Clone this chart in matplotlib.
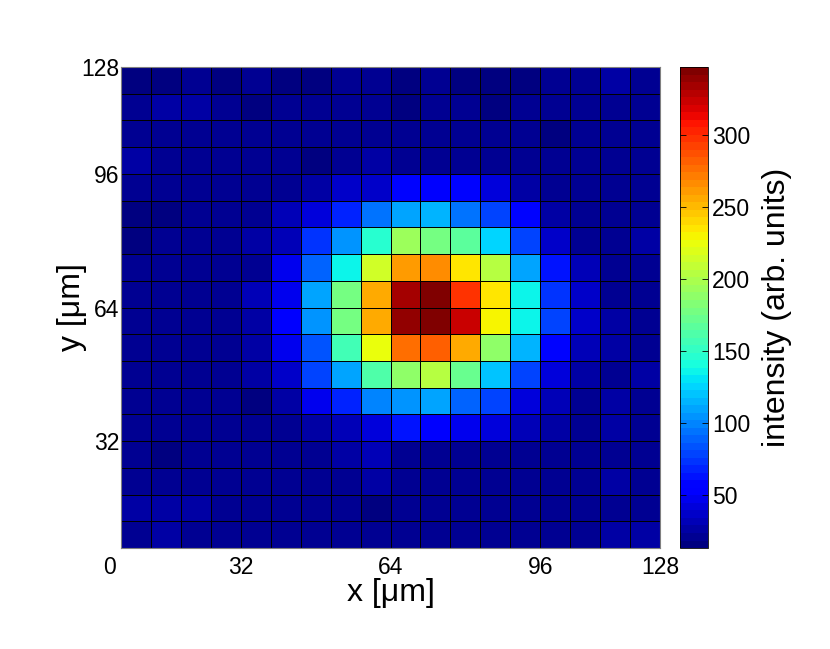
import numpy as np
import matplotlib
matplotlib.use('Agg')
import matplotlib.pyplot as plt
from matplotlib.transforms import ScaledTranslation

plt.rcParams['font.family'] = ['Liberation Sans', 'DejaVu Sans']

# intensidad por celda, fila 0 = arriba
intensidad = np.array([
    [18, 18, 19, 18, 22, 18, 17, 22, 20, 17, 19, 18, 17, 18, 19, 22, 24, 20],
    [19, 25, 25, 19, 18, 19, 22, 22, 20, 18, 20, 20, 18, 20, 20, 22, 19, 22],
    [23, 19, 19, 20, 23, 19, 22, 20, 20, 20, 23, 22, 19, 20, 18, 19, 23, 23],
    [24, 20, 19, 23, 19, 22, 18, 22, 27, 22, 22, 23, 22, 20, 19, 22, 19, 20],
    [19, 19, 20, 22, 22, 22, 28, 38, 36, 55, 51, 55, 44, 24, 20, 19, 22, 22],
    [18, 18, 22, 19, 22, 31, 40, 66, 92, 107, 113, 94, 76, 55, 26, 20, 19, 22],
    [18, 22, 19, 22, 25, 31, 71, 103, 144, 193, 176, 166, 124, 77, 38, 22, 22, 26],
    [22, 23, 22, 22, 20, 49, 88, 138, 216, 261, 268, 237, 201, 109, 61, 31, 23, 19],
    [22, 23, 19, 22, 30, 49, 111, 178, 255, 333, 347, 299, 233, 138, 71, 34, 22, 22],
    [22, 23, 23, 19, 24, 51, 105, 178, 255, 339, 347, 322, 228, 138, 76, 34, 25, 20],
    [23, 22, 19, 19, 25, 45, 84, 155, 222, 278, 280, 258, 186, 113, 59, 31, 25, 23],
    [23, 22, 20, 20, 25, 38, 77, 111, 163, 186, 201, 174, 119, 77, 42, 25, 19, 25],
    [19, 20, 20, 19, 18, 28, 45, 67, 97, 102, 107, 91, 77, 42, 31, 20, 25, 22],
    [23, 23, 23, 23, 22, 22, 25, 31, 42, 61, 52, 48, 42, 30, 26, 20, 25, 22],
    [19, 18, 19, 22, 22, 22, 23, 28, 31, 20, 23, 22, 22, 22, 20, 22, 22, 20],
    [19, 19, 20, 22, 23, 19, 22, 23, 25, 22, 23, 22, 20, 22, 23, 22, 25, 22],
    [25, 25, 25, 23, 23, 22, 22, 19, 18, 23, 20, 20, 20, 23, 22, 22, 22, 20],
    [22, 25, 22, 22, 19, 22, 23, 20, 23, 19, 22, 23, 20, 22, 20, 22, 25, 25],
])

xticks = [0, 4, 9, 14, 18]
xlabels = ['0', '32', '64', '96', '128']
yticks = [4, 9, 14, 18]
ylabels = ['32', '64', '96', '128']
cbar_ticks = [50, 100, 150, 200, 250, 300]
vmin, vmax = 13, 347

fig = plt.figure(figsize=(8.3, 6.49), dpi=100)
ax = fig.add_axes([0.1458, 0.1556, 0.6494, 0.7411])
cax = fig.add_axes([0.8193, 0.1556, 0.0337, 0.7411])

cmap = plt.get_cmap('jet', 64)
malla = ax.pcolormesh(np.flipud(intensidad), cmap=cmap, vmin=vmin, vmax=vmax,
                      edgecolors='k', linewidth=0.7)
ax.set_xlim(0, 18)
ax.set_ylim(0, 18)

ax.set_xticks(xticks)
ax.set_xticklabels(xlabels)
ax.set_yticks(yticks)
ax.set_yticklabels(ylabels)
ax.tick_params(length=0, labelsize=16.5)
ax.tick_params(axis='x', pad=6)
ax.tick_params(axis='y', pad=1)
# el "0" queda desplazado a la izquierda
lbl0 = ax.get_xticklabels()[0]
lbl0.set_transform(lbl0.get_transform() + ScaledTranslation(-0.12, 0, fig.dpi_scale_trans))

for s in ax.spines.values():
    s.set_color('0.5')
    s.set_linewidth(0.8)

ax.set_xlabel('x [μm]', fontsize=23, labelpad=-1)
ax.set_ylabel('y [μm]', fontsize=23, labelpad=-4)

cb = fig.colorbar(malla, cax=cax, ticks=cbar_ticks)
cb.ax.tick_params(labelsize=16.5, direction='in', length=4, width=0.6, left=True, right=True, pad=3)
cb.outline.set_linewidth(0.6)
cb.set_label('intensity (arb. units)', fontsize=23, labelpad=8)

plt.savefig('out.png', dpi=100)
